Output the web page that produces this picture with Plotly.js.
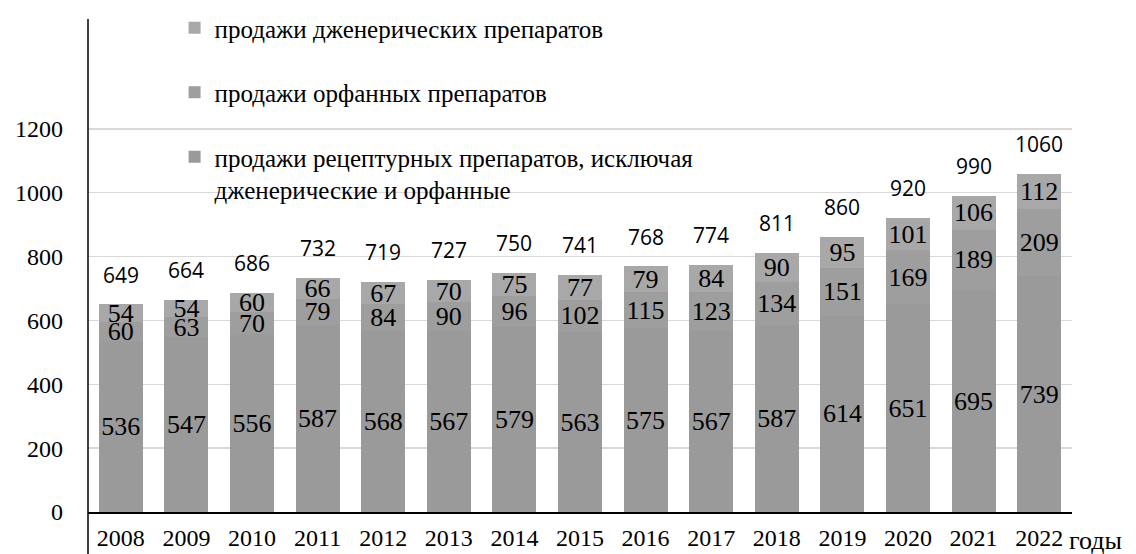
<!DOCTYPE html>
<html>
<head>
<meta charset="utf-8">
<script src="https://cdn.plot.ly/plotly-3.0.1.min.js"></script>
<style>html,body{margin:0;padding:0;background:#fff;}#chart{width:1136px;height:554px;}</style>
</head>
<body>
<div id="chart"></div>
<script>
const years = ['2008','2009','2010','2011','2012','2013','2014','2015','2016','2017','2018','2019','2020','2021','2022'];
const prescription = [536,547,556,587,568,567,579,563,575,567,587,614,651,695,739];
const orphan = [60,63,70,79,84,90,96,102,115,123,134,151,169,189,209];
const generic = [54,54,60,66,67,70,75,77,79,84,90,95,101,106,112];
const totals = [649,664,686,732,719,727,750,741,768,774,811,860,920,990,1060];

const nameGeneric = 'продажи дженерических препаратов';
const nameOrphan = 'продажи орфанных препаратов';
const namePrescr = 'продажи рецептурных препаратов, исключая<br>дженерические и орфанные';

const serif = 'Times New Roman, Liberation Serif, serif';
const sans = 'Open Sans, sans-serif';

function barTrace(name, vals, color, group, rank) {
  return {
    type: 'bar', x: years, y: vals, name: name,
    marker: {color: color, line: {width: 0}},
    text: vals.map(String), textposition: 'inside', insidetextanchor: 'middle',
    textangle: 0, constraintext: 'none',
    textfont: {family: serif, size: 26, color: '#000'},
    legendgroup: group, legendrank: rank, hoverinfo: 'x+y+name'
  };
}

const data = [
  barTrace(namePrescr, prescription, '#9a9a9a', 'c', 3),
  barTrace(nameOrphan, orphan, '#9e9e9e', 'b', 2),
  barTrace(nameGeneric, generic, '#a8a8a8', 'a', 1)
];

const annotations = years.map((yr, i) => ({
  x: i, y: totals[i], xref: 'x', yref: 'y', text: String(totals[i]),
  showarrow: false, yanchor: 'middle', yshift: 30,
  font: {family: sans, size: 21, color: '#000'}
}));
annotations.push({
  xref: 'paper', yref: 'paper', x: 0.995, y: 0, yanchor: 'top', xanchor: 'left',
  yshift: -12, text: 'годы', showarrow: false,
  font: {family: serif, size: 26, color: '#000'}
});

const T = 5, B = 42, PH = 554 - T - B;

const layout = {
  width: 1136, height: 554,
  margin: {l: 88, r: 64, t: T, b: B},
  paper_bgcolor: '#fff', plot_bgcolor: '#fff',
  barmode: 'stack', bargap: 0.33,
  showlegend: true,
  legend: {
    x: 0.088, xanchor: 'left', y: 1.0, yanchor: 'top',
    traceorder: 'grouped', tracegroupgap: 29, valign: 'top',
    bgcolor: 'rgba(0,0,0,0)',
    font: {family: serif, size: 25, color: '#000'}
  },
  xaxis: {
    type: 'category', range: [-0.5, 14.5], showgrid: false, showline: true, linecolor: '#000', linewidth: 1.5,
    ticks: '', ticklabelstandoff: 4,
    tickfont: {family: serif, size: 24, color: '#000'}
  },
  yaxis: {
    range: [0, 1588], tickvals: [0,200,400,600,800,1000,1200],
    showgrid: true, gridcolor: '#d9d9d9', gridwidth: 1.5,
    showline: false, zeroline: false,
    ticks: '', ticklabelstandoff: 24,
    tickfont: {family: serif, size: 24, color: '#000'}
  },
  shapes: [{
    type: 'line', xref: 'paper', yref: 'paper', x0: 0, x1: 0, y0: -B / PH, y1: (PH - 14) / PH,
    line: {color: '#000', width: 1.5}
  }],
  annotations: annotations
};

Plotly.newPlot('chart', data, layout, {displayModeBar: false, staticPlot: true});
</script>
</body>
</html>
